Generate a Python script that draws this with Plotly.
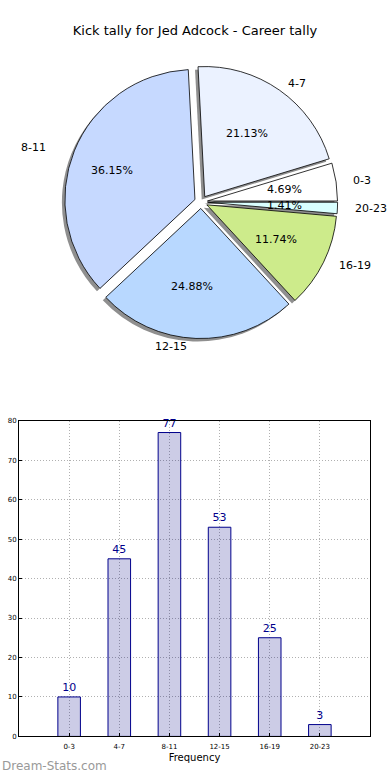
import math
import plotly.graph_objects as go

categories = ["0-3", "4-7", "8-11", "12-15", "16-19", "20-23"]
values = [10, 45, 77, 53, 25, 3]
slice_colors = ["#FFFFFF", "#EBF2FF", "#C6D9FF", "#B8D8FF", "#CDEB8B", "#D9FFFF"]
title_text = "Kick tally for Jed Adcock - Career tally"
y_ticks = [0, 10, 20, 30, 40, 50, 60, 70, 80]

W, H = 390, 780
FONT = "DejaVu Sans"

# label geometry (pixels)
cx, cy = 195, 200
# pie geometry (pixels)
pcx, pcy = 201, 200
half = 138  # half-size of pie domain
pull = 0.05
shadow_dx, shadow_dy = -3, 3

total = sum(values)
# plotly counterclockwise pies put the first slice's far edge at `rotation`;
# shift so that the first slice starts at 3 o'clock (matplotlib default)
rotation = 90 - values[0] / total * 360


def px_dom(x0, x1, y0, y1):
    return dict(x=[x0 / W, x1 / W], y=[1 - y1 / H, 1 - y0 / H])


fig = go.Figure()

# shadow pie
fig.add_trace(go.Pie(
    labels=categories, values=values, sort=False, direction="counterclockwise",
    rotation=rotation, pull=[pull] * len(values),
    marker=dict(colors=["#8f8f8f"] * len(values), line=dict(width=0)),
    textinfo="none", hoverinfo="skip", showlegend=False,
    domain=px_dom(pcx - half + shadow_dx, pcx + half + shadow_dx,
                  pcy - half + shadow_dy, pcy + half + shadow_dy),
))
# main pie
fig.add_trace(go.Pie(
    labels=categories, values=values, sort=False, direction="counterclockwise",
    rotation=rotation, pull=[pull] * len(values),
    marker=dict(colors=slice_colors, line=dict(color="#000000", width=0.8)),
    textinfo="none", showlegend=False,
    domain=px_dom(pcx - half, pcx + half, pcy - half, pcy + half),
))

# labels and percentages computed from the data
annotations = []
cum = 0.0
Lx, Ly = 158, 146
Px, Py = 90, 85
for cat, v in zip(categories, values):
    a0 = cum / total * 360
    cum += v
    a1 = cum / total * 360
    mid = math.radians((a0 + a1) / 2)
    c, s = math.cos(mid), math.sin(mid)
    lx, ly = cx + Lx * c, cy - Ly * s
    annotations.append(dict(
        x=lx / W, y=1 - ly / H, xref="paper", yref="paper", text=cat,
        showarrow=False, xanchor="left" if c > 0 else "right", yanchor="middle",
        font=dict(family=FONT, size=11, color="#000000")))
    tx, ty = cx + Px * c, cy - Py * s
    annotations.append(dict(
        x=tx / W, y=1 - ty / H, xref="paper", yref="paper",
        text=f"{v / total * 100:.2f}%",
        showarrow=False, xanchor="center", yanchor="middle",
        font=dict(family=FONT, size=11, color="#000000")))

# bar chart
fig.add_trace(go.Bar(
    x=list(range(len(categories))), y=values, width=0.45,
    marker=dict(color="rgba(0,0,128,0.2)", line=dict(color="#00008B", width=1)),
    text=[str(v) for v in values], textposition="outside",
    textfont=dict(family=FONT, size=11, color="#00008B"),
    cliponaxis=False, showlegend=False,
    xaxis="x", yaxis="y",
))

annotations.append(dict(
    x=0, y=1 - 770 / H, xref="paper", yref="paper", text="Dream-Stats.com",
    showarrow=False, xanchor="left", yanchor="middle",
    font=dict(family=FONT, size=12, color="#999999")))

fig.update_layout(
    width=W, height=H,
    margin=dict(l=0, r=0, t=0, b=0),
    paper_bgcolor="#FFFFFF", plot_bgcolor="#FFFFFF",
    font=dict(family=FONT, color="#000000"),
    title=dict(text=title_text, x=0.5, xanchor="center", y=1 - 30 / H, yanchor="middle",
               font=dict(family=FONT, size=13, color="#000000")),
    annotations=annotations,
    xaxis=dict(
        domain=[19 / W, 370 / W], range=[-1, 6],
        tickmode="array", tickvals=list(range(len(categories))), ticktext=categories,
        tickfont=dict(family=FONT, size=7, color="#000000"),
        showgrid=True, gridcolor="#b0b0b0", griddash="1px,2px", gridwidth=1,
        showline=True, linecolor="#000000", linewidth=1, mirror=True,
        ticks="inside", ticklen=3, tickcolor="#000000", ticklabelstandoff=3,
        zeroline=False, fixedrange=True,
        title=dict(text="Frequency", font=dict(family=FONT, size=10, color="#000000"), standoff=4),
    ),
    yaxis=dict(
        domain=[1 - 740 / H, 1 - 421 / H], range=[0, 80],
        tickmode="array", tickvals=y_ticks,
        tickfont=dict(family=FONT, size=7, color="#000000"),
        showgrid=True, gridcolor="#b0b0b0", griddash="1px,2px", gridwidth=1,
        showline=True, linecolor="#000000", linewidth=1, mirror=True,
        ticks="inside", ticklen=3, tickcolor="#000000",
        zeroline=False, fixedrange=True,
    ),
    bargap=0.5,
)

fig.write_html("out.html", config={"displayModeBar": False},
               post_script="document.body.style.margin='0px';")
